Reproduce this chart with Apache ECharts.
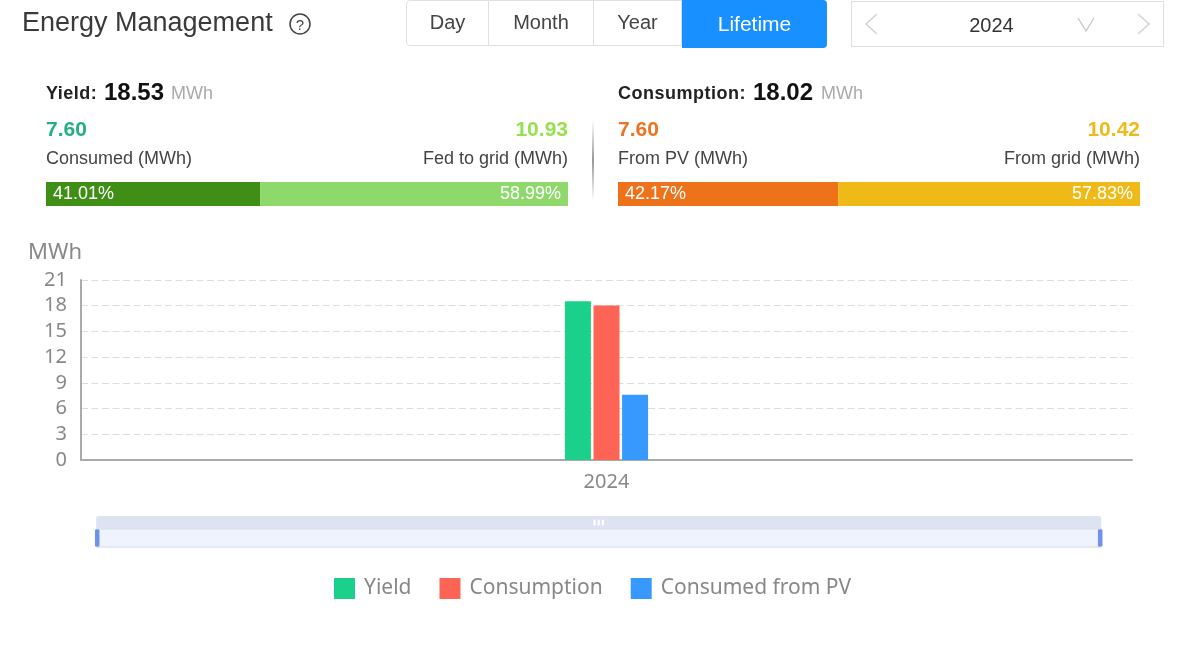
<!DOCTYPE html>
<html>
<head>
<meta charset="utf-8">
<title>Energy Management</title>
<script src="https://cdn.jsdelivr.net/npm/echarts@6/dist/echarts.min.js"></script>
<style>
  html, body { margin: 0; padding: 0; background: #fff; }
  body { width: 1178px; height: 649px; position: relative; overflow: hidden; font-family: "Liberation Sans", Arial, sans-serif; }
  #chart { position: absolute; left: 0; top: 0; width: 1178px; height: 649px; }
  .t { position: absolute; white-space: nowrap; line-height: 1; }
  .btn { position: absolute; top: 0; height: 46px; line-height: 43px; text-align: center; font-size: 20px; color: #444; border: 1px solid #dcdfe6; border-left: none; box-sizing: border-box; }
  svg { position: absolute; }
</style>
</head>
<body>
<div id="chart"></div>

<!-- header -->
<div class="t" style="left:22px;top:9px;font-size:27px;color:#3a3a3a">Energy Management</div>
<svg style="left:288px;top:12px" width="24" height="24" viewBox="0 0 24 24">
  <circle cx="12" cy="12" r="10" fill="none" stroke="#444" stroke-width="1.5"/>
  <text x="12" y="17.5" text-anchor="middle" font-size="15" fill="#444" font-family="Liberation Sans">?</text>
</svg>
<div class="btn" style="left:406px;width:83px;border-left:1px solid #dcdfe6;border-radius:4px 0 0 4px">Day</div>
<div class="btn" style="left:489px;width:105px">Month</div>
<div class="btn" style="left:594px;width:88px">Year</div>
<div class="btn" style="left:682px;width:145px;height:48px;line-height:47px;font-size:21px;background:#1890ff;color:#fff;border:none;border-radius:0 4px 4px 0">Lifetime</div>
<div class="btn" style="left:851px;width:313px;top:1px;border-left:1px solid #dcdfe6;line-height:46px;color:#333;font-size:20px;padding-right:32px">2024</div>
<svg style="left:860px;top:10px" width="24" height="28"><polyline points="17,4 6,14 17,24" fill="none" stroke="#d4d4d4" stroke-width="1.6"/></svg>
<svg style="left:1074px;top:14px" width="24" height="20"><polyline points="4,4 12,17 20,4" fill="none" stroke="#c8c8c8" stroke-width="1.4"/></svg>
<svg style="left:1132px;top:10px" width="24" height="28"><polyline points="6,4 17,14 6,24" fill="none" stroke="#d4d4d4" stroke-width="1.6"/></svg>

<!-- yield block -->
<div class="t" style="left:46px;top:84px;font-size:18px;font-weight:bold;color:#222;letter-spacing:.5px">Yield:</div>
<div class="t" style="left:104px;top:80px;font-size:24px;font-weight:bold;color:#111">18.53</div>
<div class="t" style="left:171px;top:84px;font-size:18px;color:#aaa">MWh</div>
<div class="t" style="left:46px;top:118px;font-size:21px;font-weight:bold;color:#22b07d">7.60</div>
<div class="t" style="right:610px;top:118px;font-size:21px;font-weight:bold;color:#96e04e">10.93</div>
<div class="t" style="left:46px;top:149px;font-size:18px;color:#444">Consumed (MWh)</div>
<div class="t" style="right:610px;top:149px;font-size:18px;color:#444">Fed to grid (MWh)</div>

<div style="position:absolute;left:592px;top:120px;width:2px;height:81px;background:linear-gradient(to bottom,#fff,#999 50%,#fff)"></div>

<!-- consumption block -->
<div class="t" style="left:618px;top:84px;font-size:18px;font-weight:bold;color:#222;letter-spacing:.5px">Consumption:</div>
<div class="t" style="left:753px;top:80px;font-size:24px;font-weight:bold;color:#111">18.02</div>
<div class="t" style="left:821px;top:84px;font-size:18px;color:#aaa">MWh</div>
<div class="t" style="left:618px;top:118px;font-size:21px;font-weight:bold;color:#ee7320">7.60</div>
<div class="t" style="right:38px;top:118px;font-size:21px;font-weight:bold;color:#f0b91a">10.42</div>
<div class="t" style="left:618px;top:149px;font-size:18px;color:#444">From PV (MWh)</div>
<div class="t" style="right:38px;top:149px;font-size:18px;color:#444">From grid (MWh)</div>

<script>
// 柱状图数据
const categories = ['2024'];
const yieldValues = [18.53];
const consumptionValues = [18.02];
const consumedPvValues = [7.6];
const yTicks = { min: 0, max: 21, interval: 3 };

// 占比条数据
const yieldShare = [41.01, 58.99];
const consumptionShare = [42.17, 57.83];

const chart = echarts.init(document.getElementById('chart'));

const labelFont = '"Noto Sans", "Open Sans", sans-serif';

const shareSeries = (name, value, color, gridIdx, pos) => ({
  name: name,
  type: 'bar',
  stack: 'share' + gridIdx,
  xAxisIndex: gridIdx,
  yAxisIndex: gridIdx,
  barWidth: 24,
  data: [value],
  itemStyle: { color: color },
  label: {
    show: true,
    position: pos,
    distance: 7,
    color: '#fff',
    fontSize: 18,
    fontFamily: '"Liberation Sans", Arial, sans-serif',
    formatter: v => v.value.toFixed(2) + '%'
  }
});

const shareX = idx => ({ type: 'value', gridIndex: idx, min: 0, max: 100, show: false });
const shareY = idx => ({ type: 'category', gridIndex: idx, data: ['share'], show: false });

chart.setOption({
  animation: false,
  grid: [
    { left: 81, width: 1051, top: 280, height: 180 },
    { left: 46, width: 522, top: 182, height: 24 },
    { left: 618, width: 522, top: 182, height: 24 }
  ],
  legend: {
    data: ['Yield', 'Consumption', 'Consumed from PV'],
    left: 329,
    top: 573,
    icon: 'rect',
    itemWidth: 21,
    itemHeight: 21,
    itemGap: 28,
    textStyle: { color: '#888', fontSize: 21, fontFamily: labelFont, padding: [0, 0, 6, 4] }
  },
  xAxis: [
    {
      type: 'category',
      data: categories,
      axisTick: { show: false },
      axisLine: { lineStyle: { color: '#aaa', width: 2 } },
      axisLabel: { color: '#888', fontSize: 20, fontFamily: labelFont, margin: 12 }
    },
    shareX(1),
    shareX(2)
  ],
  yAxis: [
    {
      type: 'value',
      min: yTicks.min,
      max: yTicks.max,
      interval: yTicks.interval,
      name: 'MWh',
      nameGap: 16,
      nameTextStyle: { color: '#888', fontSize: 22, fontFamily: labelFont, padding: [0, 52, 0, 0] },
      axisLine: { show: true, lineStyle: { color: '#aaa', width: 2 } },
      axisTick: { show: false },
      axisLabel: { color: '#888', fontSize: 20, fontFamily: labelFont, margin: 14 },
      splitLine: { lineStyle: { color: '#ddd', type: [7, 3.5] } }
    },
    shareY(1),
    shareY(2)
  ],
  dataZoom: [
    {
      type: 'slider',
      xAxisIndex: 0,
      left: 91,
      width: 1005,
      top: 516,
      height: 19,
      start: 0,
      end: 100,
      showDetail: false,
      showDataShadow: false,
      brushSelect: true,
      backgroundColor: '#eef3fe',
      borderColor: '#d5dbea',
      fillerColor: '#eef3fe',
      handleIcon: 'path://M0,0 H22 V100 H0 Z',
      handleSize: '85%',
      handleStyle: { color: '#6f93ea', borderColor: '#6f93ea' },
      moveHandleSize: 13,
      moveHandleStyle: { color: '#dde3f0', opacity: 1 },
      emphasis: { moveHandleStyle: { color: '#dde3f0' } }
    }
  ],
  series: [
    { name: 'Yield', type: 'bar', barWidth: 26, barGap: '10%', data: yieldValues, itemStyle: { color: '#1ad08a' } },
    { name: 'Consumption', type: 'bar', barWidth: 26, barGap: '10%', data: consumptionValues, itemStyle: { color: '#fd6455' } },
    { name: 'Consumed from PV', type: 'bar', barWidth: 26, barGap: '10%', data: consumedPvValues, itemStyle: { color: '#3798fd' } },
    shareSeries('Consumed', yieldShare[0], '#3f8e15', 1, 'insideLeft'),
    shareSeries('Fed to grid', yieldShare[1], '#8fd96c', 1, 'insideRight'),
    shareSeries('From PV', consumptionShare[0], '#ee7219', 2, 'insideLeft'),
    shareSeries('From grid', consumptionShare[1], '#efba18', 2, 'insideRight')
  ]
});
</script>
</body>
</html>
